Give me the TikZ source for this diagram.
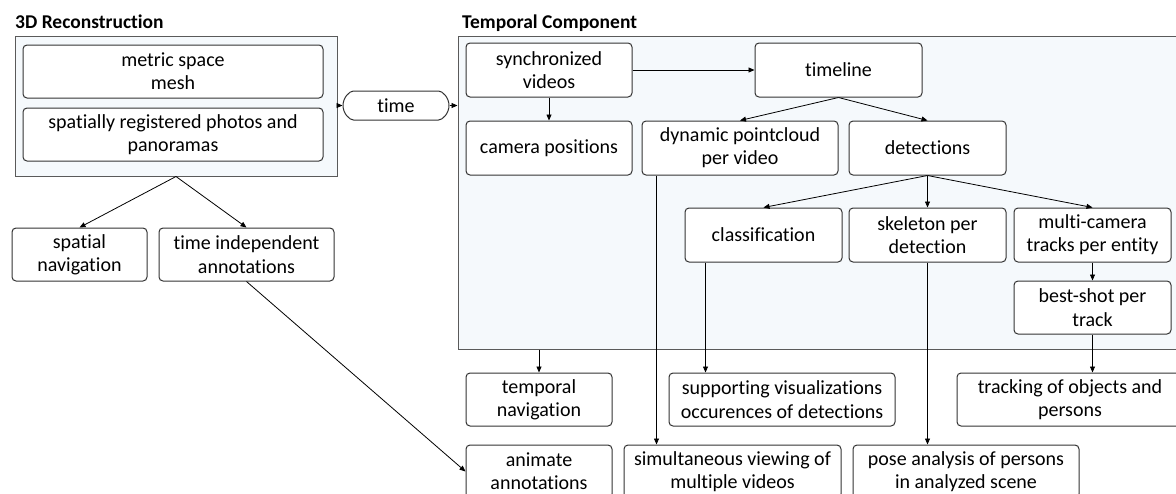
\documentclass[tikz,border=0pt]{standalone}
\usepackage{fontspec}
\setmainfont{Carlito}[Ligatures=NoCommon]
\usepackage{tikz}
\usetikzlibrary{arrows.meta,shapes.misc}
\usepackage{xcolor}
\definecolor{panelfill}{HTML}{F5F9FC}
\definecolor{panelline}{HTML}{5A5A5A}
\definecolor{boxline}{HTML}{333333}

\begin{document}
\begin{tikzpicture}[x=1pt,y=-1pt,
    panel/.style={draw=panelline,fill=panelfill,line width=1pt,inner sep=0pt},
    paneltitle/.style={anchor=base west,inner sep=0pt,font=\fontsize{19.5}{23}\selectfont\bfseries},
    box/.style={draw=boxline,fill=white,rounded corners=4pt,line width=1pt,align=center,
      inner sep=0pt,font=\fontsize{20}{23.3}\selectfont},
    arr/.style={-{Triangle[length=6pt,width=5pt]},line width=0.8pt}]
    \clip (0,0) rectangle (1176,493);
    \fill[white] (0,0) rectangle (1176,493);
    % the two panels
    \node[panel,minimum width=322pt,minimum height=140pt] (recon) at (176,106) {};
    \node[paneltitle] (recontitle) at (15,28) {3D Reconstruction};
    \node[panel,minimum width=732pt,minimum height=313pt] (temporal) at (824,192.5) {};
    \node[paneltitle] (temporaltitle) at (462,28) {Temporal Component};
    % 3D reconstruction
    \node[box,minimum width=300pt,minimum height=53pt] (mesh) at (173,71.5) {metric space\\mesh};
    \node[box,minimum width=300pt,minimum height=53pt] (photos) at (173,134.5) {spatially registered photos and\\panoramas};
    \node[box,rounded rectangle,minimum width=106pt,minimum height=29pt] (time) at (396,105.5) {time};
    \node[box,minimum width=135pt,minimum height=53pt] (spatnav) at (79.5,254.5) {spatial\\navigation};
    \node[box,minimum width=175pt,minimum height=53pt] (indep) at (246.5,254.5) {time independent\\annotations};
    % temporal component
    \node[box,minimum width=166pt,minimum height=54pt] (sync) at (549,70) {synchronized\\videos};
    \node[box,minimum width=167pt,minimum height=54pt] (timeline) at (838.5,70) {timeline};
    \node[box,minimum width=166pt,minimum height=54pt] (campos) at (549,148) {camera positions};
    \node[box,minimum width=196pt,minimum height=54pt] (dpc) at (740,148) {dynamic pointcloud\\per video};
    \node[box,minimum width=157pt,minimum height=54pt] (det) at (927.5,148) {detections};
    \node[box,minimum width=157pt,minimum height=54pt] (classif) at (763.5,235) {classification};
    \node[box,minimum width=157pt,minimum height=54pt] (skel) at (927.5,235) {skeleton per\\detection};
    \node[box,minimum width=157pt,minimum height=54pt] (multi) at (1092.5,235) {multi-camera\\tracks per entity};
    \node[box,minimum width=157pt,minimum height=53pt] (best) at (1092.5,307.5) {best-shot per\\track};
    % outputs below
    \node[box,minimum width=146pt,minimum height=53pt] (tempnav) at (539,399.5) {temporal\\navigation};
    \node[box,minimum width=226pt,minimum height=53pt] (support) at (782,399.5) {supporting visualizations\\occurences of detections};
    \node[box,minimum width=226pt,minimum height=53pt] (tracking) at (1070,399.5) {tracking of objects and\\persons};
    \node[box,minimum width=146pt,minimum height=53pt] (animate) at (539,471.5) {animate\\annotations};
    \node[box,minimum width=217pt,minimum height=53pt] (simul) at (732.5,471.5) {simultaneous viewing of\\multiple videos};
    \node[box,minimum width=226pt,minimum height=53pt] (pose) at (966,471.5) {pose analysis of persons\\in analyzed scene};
    \coordinate (dpcout) at ([xshift=15pt]dpc.south west);
    \coordinate (clsout) at ([xshift=21pt]classif.south west);
    % connectors
    \draw[arr] (recon.east |- time) -- (time.west);
    \draw[arr] (time.east) -- (temporal.west |- time);
    \draw[arr] (recon.south) -- (spatnav.north);
    \draw[arr] (recon.south) -- (indep.north);
    \draw[arr] (indep.south) -- (animate.west);
    \draw[arr] (sync.east) -- (timeline.west);
    \draw[arr] (sync.south) -- (campos.north);
    \draw[arr] (timeline.south) -- (dpc.north);
    \draw[arr] (timeline.south) -- (det.north);
    \foreach \t in {classif,skel,multi}
      \draw[arr] (det.south) -- (\t.north);
    \draw[arr] (multi.south) -- (best.north);
    \draw[arr] (best.south) -- (best.south |- tracking.north);
    \draw[arr] (tempnav.north |- temporal.south) -- (tempnav.north);
    \draw[arr] (dpcout) -- (dpcout |- simul.north);
    \draw[arr] (clsout) -- (clsout |- support.north);
    \draw[arr] (skel.south) -- (skel.south |- pose.north);
\end{tikzpicture}
\end{document}
